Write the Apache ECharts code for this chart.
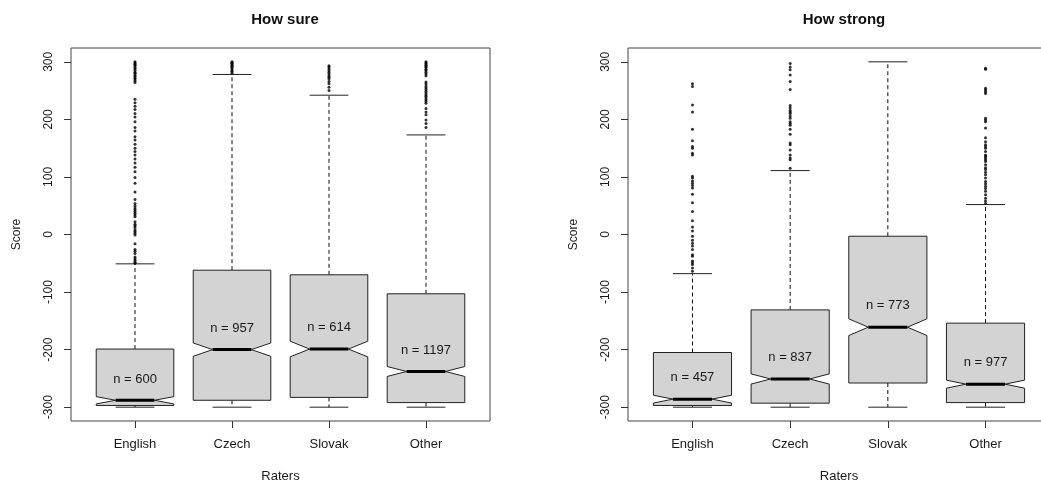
<!DOCTYPE html>
<html>
<head>
<meta charset="utf-8">
<script src="https://cdn.jsdelivr.net/npm/echarts@6/dist/echarts.min.js"></script>
<style>
  html, body { margin: 0; padding: 0; background: #fff; }
  #chart { width: 1041px; height: 484px; }
</style>
</head>
<body>
<div id="chart"></div>
<script>
// Rater groups on the x axis
const raters = ['English', 'Czech', 'Slovak', 'Other'];
const yTicks = [-300, -200, -100, 0, 100, 200, 300];

// "How sure" box statistics
const sureLower  = [-300, -300, -300, -300];
const sureQ1     = [-297, -288, -283, -292];
const sureMedian = [-288, -200, -199, -238];
const sureQ3     = [-199, -62, -70, -103];
const sureUpper  = [-51, 278, 242, 173];
const sureN      = [600, 957, 614, 1197];
const sureOutliers = [
  [300, 298, 296, 295, 293, 290, 288, 285, 282, 280, 277, 275, 272, 270, 267, 264,
   235, 229, 223, 217, 210, 204, 196, 186, 180, 170, 164, 157, 150, 144, 138, 131,
   124, 117, 109, 99, 89, 74, 61, 54, 50, 46, 43, 40, 37, 34, 31, 22, 18, 15, 12,
   8, 5, 2, -1, -16, -26, -29, -33, -39, -42, -45, -48, -50],
  [300, 299, 297, 296, 294, 292, 290, 288, 285, 283, 280],
  [293, 291, 288, 285, 282, 279, 276, 273, 270, 266, 262, 256, 250],
  [300, 298, 296, 294, 292, 290, 287, 285, 282, 279, 276, 265, 262, 258, 255, 252,
   249, 246, 243, 240, 237, 234, 231, 228, 219, 213, 208, 199, 193, 186]
];

// "How strong" box statistics
const strongLower  = [-300, -300, -300, -300];
const strongQ1     = [-297, -293, -258, -292];
const strongMedian = [-286, -251, -161, -260];
const strongQ3     = [-205, -131, -3, -154];
const strongUpper  = [-68, 111, 300, 52];
const strongN      = [457, 837, 773, 977];
const strongOutliers = [
  [262, 257, 225, 213, 183, 163, 153, 150, 141, 138, 101, 98, 93, 89, 85, 81, 70,
   55, 40, 24, 13, 6, -3, -10, -15, -20, -26, -35, -38, -46, -49, -52, -58, -64],
  [297, 291, 286, 277, 266, 252, 224, 220, 216, 213, 210, 206, 202, 196, 193, 190,
   183, 174, 159, 156, 147, 138, 133, 130, 115],
  [],
  [289, 287, 254, 251, 248, 245, 202, 199, 196, 185, 168, 161, 156, 153, 150, 144,
   138, 136, 133, 130, 127, 121, 116, 113, 108, 104, 98, 92, 88, 84, 80, 75, 69,
   63, 58, 54]
];

const TEXT = '#1a1a1a';
const FONT = 'Liberation Sans, Arial, sans-serif';
const HALF_W = 0.4;       // half box width in x units
const NOTCH_FRAC = 0.5;   // notch depth as fraction of half width
const STAPLE = 0.2;       // half staple width
const LABEL_SHIFT = 37;   // n-label sits this far above the median

function boxRows(lo, q1, med, q3, hi, n) {
  return raters.map((_, i) => [i + 1, lo[i], q1[i], med[i], q3[i], hi[i], n[i]]);
}
function outlierRows(list) {
  const rows = [];
  list.forEach((vals, i) => vals.forEach(v => rows.push([i + 1, v])));
  return rows;
}

function renderBox(params, api) {
  const x = api.value(0);
  const lo = api.value(1), q1 = api.value(2), med = api.value(3);
  const q3 = api.value(4), hi = api.value(5), n = api.value(6);
  const conf = 1.58 * (q3 - q1) / Math.sqrt(n);
  const c1 = med - conf, c2 = med + conf;
  const P = (dx, v) => api.coord([x + dx, v]);
  const w = HALF_W, nf = NOTCH_FRAC * HALF_W;
  const dash = { stroke: '#111', lineWidth: 1, lineDash: [4, 3] };
  const solid = { stroke: '#222', lineWidth: 1 };
  const line = (a, b, style) => ({
    type: 'line',
    shape: { x1: a[0], y1: a[1], x2: b[0], y2: b[1] },
    style: style
  });
  const poly = [
    P(-w, q1), P(w, q1), P(w, c1), P(nf, med), P(w, c2), P(w, q3),
    P(-w, q3), P(-w, c2), P(-nf, med), P(-w, c1)
  ];
  const lp = P(0, med + LABEL_SHIFT);
  return {
    type: 'group',
    children: [
      line(P(0, q3), P(0, hi), dash),
      line(P(0, q1), P(0, lo), dash),
      line(P(-STAPLE, hi), P(STAPLE, hi), solid),
      line(P(-STAPLE, lo), P(STAPLE, lo), solid),
      {
        type: 'polygon',
        shape: { points: poly },
        style: { fill: '#d3d3d3', stroke: '#222', lineWidth: 1 }
      },
      line(P(-nf, med), P(nf, med), { stroke: '#000', lineWidth: 3 }),
      {
        type: 'text',
        x: lp[0], y: lp[1],
        style: {
          text: 'n = ' + n, fill: TEXT, font: '13px ' + FONT,
          textAlign: 'center', textVerticalAlign: 'middle'
        }
      }
    ]
  };
}

function xAxisFor(idx) {
  return {
    gridIndex: idx, type: 'value', min: 0.34, max: 4.66,
    name: 'Raters', nameLocation: 'middle', nameGap: 49,
    nameTextStyle: { color: TEXT, fontSize: 13, fontFamily: FONT },
    axisLine: { show: false, onZero: false },
    splitLine: { show: false },
    axisTick: { show: true, customValues: [1, 2, 3, 4], length: 7, lineStyle: { color: '#333' } },
    axisLabel: {
      customValues: [1, 2, 3, 4], margin: 17, color: TEXT, fontSize: 13, fontFamily: FONT,
      formatter: v => raters[Math.round(v) - 1]
    }
  };
}
function yAxisFor(idx) {
  return {
    gridIndex: idx, type: 'value', min: -324, max: 324,
    name: 'Score', nameLocation: 'middle', nameGap: 48,
    nameTextStyle: { color: TEXT, fontSize: 12, fontFamily: FONT },
    axisLine: { show: false, onZero: false },
    splitLine: { show: false },
    axisTick: { show: true, customValues: yTicks, length: 7, lineStyle: { color: '#333' } },
    axisLabel: {
      customValues: yTicks, rotate: 90, margin: 16, color: TEXT, fontSize: 12, fontFamily: FONT
    }
  };
}

const gridBase = {
  top: 48, height: 373, show: true, borderColor: '#444', borderWidth: 1,
  backgroundColor: 'transparent', containLabel: false, outerBoundsMode: 'none'
};

const chart = echarts.init(document.getElementById('chart'), null, { renderer: 'canvas' });
chart.setOption({
  animation: false,
  backgroundColor: '#fff',
  title: [
    { text: 'How sure', left: 280, top: 7, textAlign: 'center',
      textStyle: { fontSize: 15, fontWeight: 'bold', color: '#111', fontFamily: FONT } },
    { text: 'How strong', left: 839, top: 7, textAlign: 'center',
      textStyle: { fontSize: 15, fontWeight: 'bold', color: '#111', fontFamily: FONT } }
  ],
  grid: [
    Object.assign({ left: 71, width: 419 }, gridBase),
    Object.assign({ left: 628, width: 422 }, gridBase)
  ],
  xAxis: [xAxisFor(0), xAxisFor(1)],
  yAxis: [yAxisFor(0), yAxisFor(1)],
  series: [
    {
      type: 'custom', xAxisIndex: 0, yAxisIndex: 0,
      renderItem: renderBox,
      encode: { x: 0, y: [1, 2, 3, 4, 5] },
      data: boxRows(sureLower, sureQ1, sureMedian, sureQ3, sureUpper, sureN)
    },
    {
      type: 'scatter', xAxisIndex: 0, yAxisIndex: 0,
      symbol: 'circle', symbolSize: 3,
      itemStyle: { color: '#000' },
      data: outlierRows(sureOutliers)
    },
    {
      type: 'custom', xAxisIndex: 1, yAxisIndex: 1,
      renderItem: renderBox,
      encode: { x: 0, y: [1, 2, 3, 4, 5] },
      data: boxRows(strongLower, strongQ1, strongMedian, strongQ3, strongUpper, strongN)
    },
    {
      type: 'scatter', xAxisIndex: 1, yAxisIndex: 1,
      symbol: 'circle', symbolSize: 3,
      itemStyle: { color: '#000' },
      data: outlierRows(strongOutliers)
    }
  ]
});
</script>
</body>
</html>
